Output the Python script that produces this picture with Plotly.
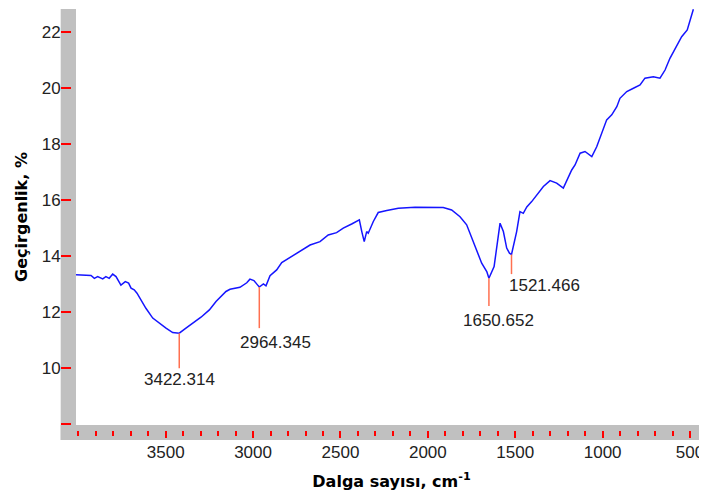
import plotly.graph_objects as go

# ---- data ----
wavenumber = [4013, 3956, 3927, 3908, 3889, 3860, 3842, 3823, 3803, 3784,
              3756, 3731, 3712, 3698, 3680, 3664, 3641, 3613, 3574, 3537,
              3498, 3460, 3422.314, 3384, 3345, 3298, 3250, 3212, 3155, 3132,
              3075, 3036, 3018, 2995, 2970, 2964.345, 2941, 2926, 2903, 2865,
              2836, 2779, 2731, 2674, 2617, 2570, 2522, 2484, 2436, 2392,
              2378, 2364, 2350, 2341, 2312, 2284, 2235, 2169, 2073, 1988,
              1912, 1864, 1816, 1778, 1749, 1721, 1692, 1663, 1650.652, 1621,
              1603, 1587, 1568, 1549, 1533, 1521.466, 1492, 1473, 1454, 1434,
              1406, 1377, 1339, 1301, 1263, 1225, 1196, 1177, 1158, 1129,
              1101, 1062, 1034, 1005, 977, 948, 919, 901, 862, 824,
              786, 758, 710, 672, 643, 615, 576, 548, 516, 500, 481]
transmittance = [13.33, 13.31, 13.30, 13.20, 13.26, 13.18, 13.26, 13.20, 13.35, 13.26,
                 12.96, 13.08, 13.03, 12.85, 12.79, 12.67, 12.43, 12.13, 11.78, 11.60,
                 11.42, 11.26, 11.24, 11.42, 11.60, 11.81, 12.07, 12.37, 12.73, 12.81,
                 12.88, 13.04, 13.17, 13.12, 12.93, 12.89, 13.00, 12.93, 13.29, 13.50,
                 13.76, 13.98, 14.15, 14.39, 14.51, 14.75, 14.83, 14.99, 15.14, 15.29,
                 14.87, 14.51, 14.87, 14.81, 15.23, 15.55, 15.62, 15.70, 15.74, 15.74,
                 15.73, 15.64, 15.40, 15.11, 14.63, 14.15, 13.74, 13.44, 13.20, 13.62,
                 14.51, 15.17, 14.87, 14.28, 14.10, 14.05, 14.87, 15.58, 15.52, 15.75,
                 15.94, 16.18, 16.48, 16.69, 16.60, 16.42, 16.83, 17.07, 17.25, 17.67,
                 17.73, 17.55, 17.90, 18.38, 18.86, 19.04, 19.33, 19.63, 19.87, 19.99,
                 20.11, 20.35, 20.40, 20.35, 20.64, 21.06, 21.48, 21.83, 22.07, 22.43, 22.81]

peak_positions = [3422.314, 2964.345, 1650.652, 1521.466]
peak_labels = ["3422.314", "2964.345", "1650.652", "1521.466"]
peak_line_top = [11.24, 12.89, 13.20, 14.05]
peak_line_bottom = [9.99, 11.42, 12.21, 13.35]
peak_label_y = [9.57, 10.89, 11.71, 12.95]
peak_label_shift = [0, 16, 10, 33]

x_tick_vals = [3500, 3000, 2500, 2000, 1500, 1000, 500]
x_tick_text = ["3500", "3000", "2500", "2000", "1500", "1000", "500"]
x_minor_vals = list(range(4000, 399, -100))
y_tick_vals = [10, 12, 14, 16, 18, 20, 22]
y_tick_text = ["10", "12", "14", "16", "18", "20", "22"]
y_unlabeled_tick = [8]

x_range = [4013, 403]
y_range = [7.96, 22.82]

# ---- layout geometry (page body adds an 8px offset) ----
W, H = 707, 498
ML, MR, MT, MB = 68, 8, 1, 81
PW, PH = W - ML - MR, H - MT - MB
BAND = "#C0C0C0"
TICK_FONT = dict(family="Liberation Sans, Arial, sans-serif", size=17, color="#222222")
TITLE_FONT = dict(family="DejaVu Sans, sans-serif", size=16, color="#000000", weight="bold")

fig = go.Figure()

fig.add_trace(go.Scatter(
    x=wavenumber, y=transmittance, mode="lines",
    line=dict(color="#1515ff", width=1.5), hoverinfo="skip", showlegend=False))

# peak marker lines
px_, py_ = [], []
for p, t, b in zip(peak_positions, peak_line_top, peak_line_bottom):
    px_ += [p, p, None]
    py_ += [t, b, None]
fig.add_trace(go.Scatter(
    x=px_, y=py_, mode="lines", line=dict(color="#ff7050", width=1.5),
    hoverinfo="skip", showlegend=False))

for p, lab, ly, sh in zip(peak_positions, peak_labels, peak_label_y, peak_label_shift):
    fig.add_annotation(x=p, y=ly, text=lab, showarrow=False, xshift=sh,
                       xanchor="center", yanchor="middle",
                       font=dict(family="Liberation Sans, Arial, sans-serif", size=17, color="#222222"))

bw = 15.3 / PW
bh = 15 / PH
fig.add_shape(type="rect", xref="paper", yref="paper", x0=-bw, x1=0, y0=-bh, y1=1,
              fillcolor=BAND, line_width=0, layer="below")
fig.add_shape(type="rect", xref="paper", yref="paper", x0=-bw, x1=1.05, y0=-bh, y1=0,
              fillcolor=BAND, line_width=0, layer="below")

fig.update_xaxes(
    range=x_range, showgrid=False, zeroline=False,
    showline=True, linewidth=6, linecolor=BAND,
    ticks="outside", ticklen=7, tickwidth=1.5, tickcolor="#ff0000",
    tickmode="array", tickvals=x_tick_vals, ticktext=x_tick_text,
    minor=dict(tickmode="array", tickvals=x_minor_vals, ticks="outside",
               ticklen=5, tickwidth=1.5, tickcolor="#ff0000", showgrid=False),
    tickfont=TICK_FONT,
    title=dict(text="Dalga sayısı, cm<sup>-1</sup>", font=TITLE_FONT, standoff=16),
)
fig.update_yaxes(
    range=y_range, showgrid=False, zeroline=False,
    showline=True, linewidth=5, linecolor=BAND,
    ticks="outside", ticklen=10, tickwidth=1.5, tickcolor="#ff0000",
    tickmode="array", tickvals=y_tick_vals, ticktext=y_tick_text,
    minor=dict(tickmode="array", tickvals=y_unlabeled_tick, ticks="outside",
               ticklen=10, tickwidth=1.5, tickcolor="#ff0000", showgrid=False),
    tickfont=TICK_FONT, ticklabelstandoff=-3,
    title=dict(text="Geçirgenlik, %", font=TITLE_FONT, standoff=12),
)

fig.update_layout(
    width=W, height=H, autosize=False,
    margin=dict(l=ML, r=MR, t=MT, b=MB, pad=0),
    paper_bgcolor="white", plot_bgcolor="white",
    showlegend=False,
)

fig.write_html("out.html")
